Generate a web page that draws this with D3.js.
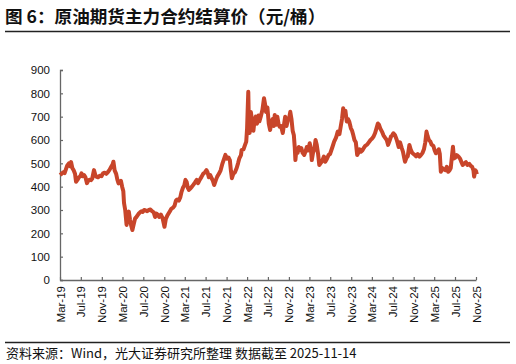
<!DOCTYPE html>
<html><head><meta charset="utf-8">
<script src="https://cdn.jsdelivr.net/npm/d3@7"></script>
<style>body{margin:0;background:#fff}svg{display:block}</style>
</head><body>
<script>
const titleText = "图 6：原油期货主力合约结算价（元/桶）";
const sourceText = "资料来源：Wind，光大证券研究所整理 数据截至 2025-11-14";
const yTicks = [0,100,200,300,400,500,600,700,800,900];
const xTickDates = ["2019-03-01","2019-07-01","2019-11-01","2020-03-01","2020-07-01","2020-11-01","2021-03-01","2021-07-01","2021-11-01","2022-03-01","2022-07-01","2022-11-01","2023-03-01","2023-07-01","2023-11-01","2024-03-01","2024-07-01","2024-11-01","2025-03-01","2025-07-01","2025-11-01"];
const dates = [
"2019-03-01","2019-03-10","2019-03-20","2019-03-28","2019-04-05","2019-04-12","2019-04-22","2019-04-28","2019-05-05","2019-05-12","2019-05-20","2019-05-28","2019-06-03","2019-06-12","2019-06-20","2019-06-28","2019-07-05","2019-07-12","2019-07-20","2019-07-28","2019-08-06","2019-08-13","2019-08-22","2019-08-30","2019-09-06","2019-09-16","2019-09-24","2019-09-30","2019-10-10","2019-10-20","2019-10-30","2019-11-08","2019-11-18","2019-11-28","2019-12-06","2019-12-16","2019-12-26",
"2020-01-03","2020-01-08","2020-01-15","2020-01-24","2020-01-31","2020-02-07","2020-02-14","2020-02-21","2020-02-28","2020-03-06","2020-03-10","2020-03-17","2020-03-25","2020-03-31","2020-04-07","2020-04-14","2020-04-22","2020-04-28","2020-05-06","2020-05-14","2020-05-22","2020-05-29","2020-06-05","2020-06-12","2020-06-20","2020-06-28","2020-07-06","2020-07-15","2020-07-24","2020-08-03","2020-08-12","2020-08-21","2020-08-31","2020-09-08","2020-09-16","2020-09-24","2020-10-02","2020-10-12","2020-10-22","2020-10-28","2020-11-02","2020-11-10","2020-11-18","2020-11-26","2020-12-04","2020-12-12","2020-12-22","2020-12-31",
"2021-01-08","2021-01-15","2021-01-25","2021-02-03","2021-02-10","2021-02-18","2021-02-26","2021-03-05","2021-03-12","2021-03-19","2021-03-25","2021-04-02","2021-04-12","2021-04-22","2021-04-30","2021-05-10","2021-05-18","2021-05-28","2021-06-07","2021-06-17","2021-06-28","2021-07-06","2021-07-13","2021-07-20","2021-07-28","2021-08-06","2021-08-13","2021-08-20","2021-08-30","2021-09-07","2021-09-17","2021-09-27","2021-10-08","2021-10-15","2021-10-25","2021-11-03","2021-11-12","2021-11-20","2021-11-26","2021-12-02","2021-12-10","2021-12-20","2021-12-30",
"2022-01-07","2022-01-14","2022-01-24","2022-01-28","2022-02-08","2022-02-15","2022-02-24","2022-03-01","2022-03-04","2022-03-08","2022-03-11","2022-03-16","2022-03-23","2022-03-31","2022-04-07","2022-04-13","2022-04-21","2022-04-28","2022-05-06","2022-05-12","2022-05-20","2022-05-30","2022-06-08","2022-06-14","2022-06-20","2022-06-28","2022-07-06","2022-07-14","2022-07-22","2022-07-29","2022-08-04","2022-08-10","2022-08-17","2022-08-25","2022-09-01","2022-09-08","2022-09-16","2022-09-26","2022-10-10","2022-10-18","2022-10-27","2022-11-04","2022-11-09","2022-11-16","2022-11-23","2022-11-30","2022-12-05","2022-12-09","2022-12-15","2022-12-22","2022-12-29",
"2023-01-06","2023-01-13","2023-01-20","2023-01-30","2023-02-06","2023-02-14","2023-02-22","2023-03-03","2023-03-10","2023-03-15","2023-03-22","2023-03-30","2023-04-06","2023-04-13","2023-04-21","2023-04-28","2023-05-05","2023-05-15","2023-05-25","2023-06-02","2023-06-12","2023-06-22","2023-06-30","2023-07-07","2023-07-14","2023-07-24","2023-08-04","2023-08-14","2023-08-24","2023-09-01","2023-09-08","2023-09-15","2023-09-22","2023-09-28","2023-10-06","2023-10-13","2023-10-20","2023-10-30","2023-11-06","2023-11-13","2023-11-20","2023-11-28","2023-12-06","2023-12-13","2023-12-20","2023-12-28",
"2024-01-05","2024-01-12","2024-01-22","2024-02-02","2024-02-12","2024-02-22","2024-03-01","2024-03-11","2024-03-20","2024-03-28","2024-04-05","2024-04-12","2024-04-19","2024-04-29","2024-05-08","2024-05-17","2024-05-27","2024-06-04","2024-06-12","2024-06-21","2024-06-28","2024-07-05","2024-07-15","2024-07-25","2024-08-05","2024-08-13","2024-08-23","2024-08-30","2024-09-06","2024-09-11","2024-09-20","2024-09-27","2024-10-07","2024-10-14","2024-10-23","2024-10-31","2024-11-07","2024-11-15","2024-11-25","2024-12-05","2024-12-13","2024-12-23","2024-12-31",
"2025-01-08","2025-01-15","2025-01-22","2025-01-29","2025-02-07","2025-02-14","2025-02-24","2025-03-04","2025-03-11","2025-03-20","2025-03-28","2025-04-03","2025-04-09","2025-04-17","2025-04-25","2025-05-06","2025-05-14","2025-05-22","2025-05-30","2025-06-06","2025-06-13","2025-06-19","2025-06-25","2025-07-03","2025-07-11","2025-07-21","2025-07-31","2025-08-08","2025-08-15","2025-08-25","2025-09-03","2025-09-12","2025-09-22","2025-09-30","2025-10-09","2025-10-17","2025-10-21","2025-10-28","2025-11-05","2025-11-14"];
const prices = [
450,455,462,458,475,490,500,488,505,480,470,455,421,430,440,445,457,445,450,440,415,425,430,428,435,471,450,443,440,447,445,457,460,455,462,472,485,
495,507,470,455,430,414,420,425,400,380,330,300,236,270,293,260,230,214,240,264,270,278,285,290,295,292,300,298,295,300,302,295,290,270,285,280,270,280,265,245,228,262,275,285,295,305,310,318,
340,345,340,355,378,395,405,429,420,395,386,392,400,410,418,429,415,430,442,455,462,471,460,440,450,435,425,407,428,443,455,470,500,515,536,520,525,514,470,436,455,462,480,
500,520,535,557,560,575,593,650,720,807,690,630,720,680,640,680,700,670,705,680,700,730,779,755,720,740,670,643,680,690,660,707,665,700,670,657,660,630,700,660,690,700,721,690,640,620,571,514,560,545,570,
557,565,545,536,550,570,555,586,560,514,545,560,600,580,540,493,500,510,529,507,520,536,540,555,570,593,610,636,625,660,690,736,715,725,679,690,680,650,640,621,600,590,536,545,560,550,
555,564,575,580,590,600,605,615,630,650,671,665,650,636,620,610,600,579,595,615,620,629,620,600,570,590,565,550,525,507,525,530,579,560,545,540,536,530,540,529,535,545,560,
590,636,615,600,593,580,575,555,543,550,560,540,464,480,475,471,485,464,470,480,530,571,521,525,535,529,520,505,493,500,505,493,498,490,486,470,443,470,462,464];

const W = 516, H = 364;
const svg = d3.select("body").append("svg").attr("width", W).attr("height", H);
const parse = d3.timeParse("%Y-%m-%d");
const data = dates.map((d, i) => ({ date: parse(d), value: prices[i] }));

const x = d3.scaleTime().domain([parse("2019-03-01"), parse("2025-11-01")]).range([60, 476]);
const y = d3.scaleLinear().domain([0, 900]).range([280, 70]);

// title
svg.append("text").attr("x", 5).attr("y", 22.5)
  .attr("font-family", "'Noto Sans CJK SC', sans-serif").attr("font-weight", "bold")
  .attr("font-size", 17.6).attr("fill", "#111").text(titleText);
svg.append("line").attr("x1", 5).attr("x2", 510).attr("y1", 31.5).attr("y2", 31.5)
  .attr("stroke", "#222").attr("stroke-width", 1.3);

// y axis
const yAxis = d3.axisLeft(y).tickValues(yTicks).tickSize(-3).tickPadding(10);
const gy = svg.append("g").attr("transform", "translate(60,0)").call(yAxis);
gy.select(".domain").attr("stroke", "#666").attr("stroke-width", 1.3);
gy.selectAll(".tick line").attr("stroke", "#666").attr("stroke-width", 1.2);
gy.selectAll("text").attr("font-family", "'Liberation Sans', Arial, sans-serif")
  .attr("font-size", 11.5).attr("fill", "#111");

// x axis
const xAxis = d3.axisBottom(x).tickValues(xTickDates.map(parse))
  .tickFormat(d3.timeFormat("%b-%y")).tickSize(-3).tickSizeOuter(0);
const gx = svg.append("g").attr("transform", "translate(0,280)").call(xAxis);
gx.select(".domain").attr("stroke", "#666").attr("stroke-width", 1.3);
gx.selectAll(".tick line").attr("stroke", "#666").attr("stroke-width", 1.2);
gx.selectAll("text").attr("font-family", "'Liberation Sans', Arial, sans-serif")
  .attr("font-size", 11.5).attr("fill", "#111")
  .attr("transform", "rotate(-90)").attr("text-anchor", "end")
  .attr("x", -6).attr("y", 0).attr("dy", "0.35em");

// line
const line = d3.line().x(d => x(d.date)).y(d => y(d.value));
svg.append("path").datum(data).attr("d", line).attr("fill", "none")
  .attr("stroke", "#C8452A").attr("stroke-width", 4).attr("stroke-linejoin", "round");

// footer
svg.append("line").attr("x1", 5).attr("x2", 510).attr("y1", 342.5).attr("y2", 342.5)
  .attr("stroke", "#222").attr("stroke-width", 1.3);
svg.append("text").attr("x", 6).attr("y", 357.5)
  .attr("font-family", "'Noto Sans CJK SC', sans-serif")
  .attr("font-size", 13).attr("fill", "#111")
  .text(sourceText);
</script>
</body></html>
